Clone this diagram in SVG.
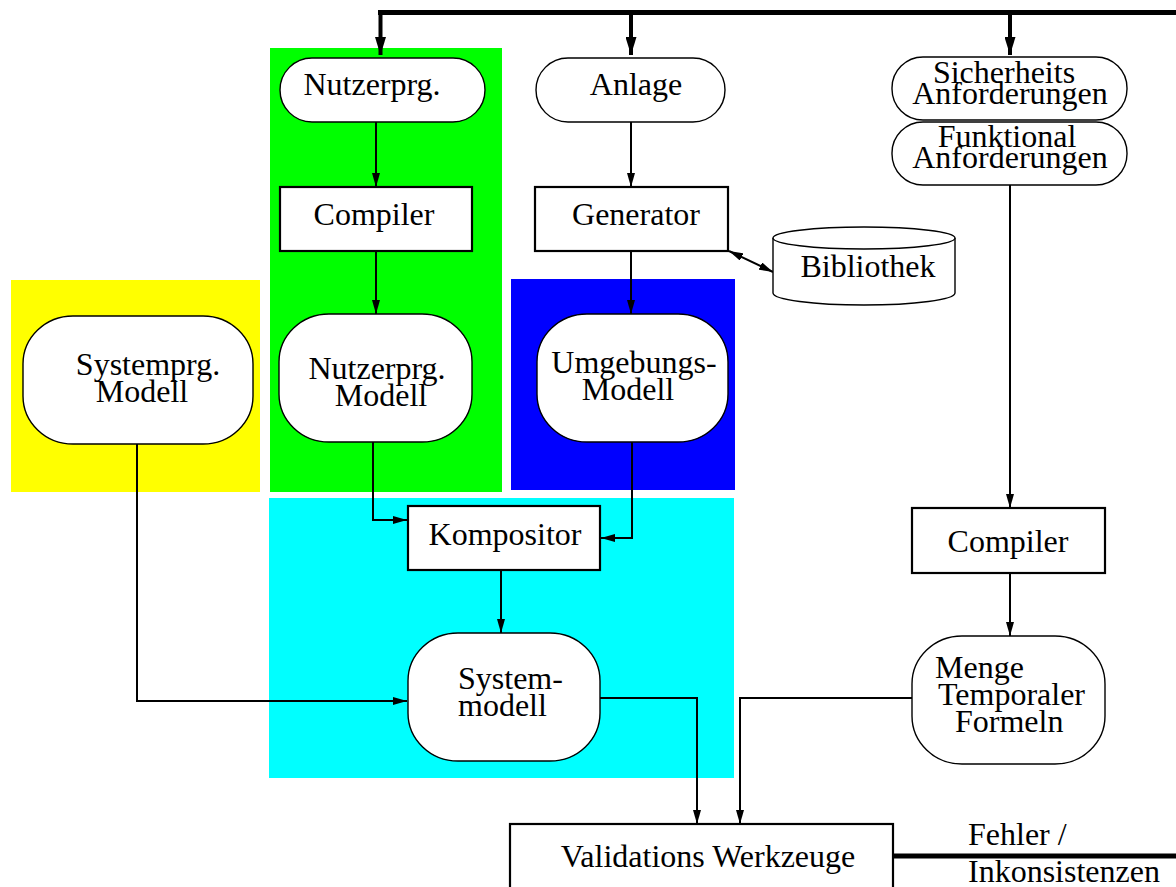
<svg xmlns="http://www.w3.org/2000/svg" width="1176" height="887" viewBox="0 0 1176 887">
  <defs>
    <style>
      text { font-family: "Liberation Serif", "Times New Roman", serif; font-size: 32px; fill: #000; }
      .box { fill: #fff; stroke: #000; stroke-width: 2.2; }
      .term { fill: #fff; stroke: #000; stroke-width: 1.4; }
      .line { fill: none; stroke: #000; stroke-width: 2; }
      .thick { fill: none; stroke: #000; stroke-width: 5; }
      .mid { text-anchor: middle; }
    </style>
    <marker id="arr" viewBox="0 0 14 8" refX="14" refY="4" markerWidth="14" markerHeight="8" markerUnits="userSpaceOnUse" orient="auto">
      <path d="M0,0 L14,4 L0,8 Z" fill="#000"/>
    </marker>
    <marker id="arrStart" viewBox="0 0 14 8" refX="0" refY="4" markerWidth="14" markerHeight="8" markerUnits="userSpaceOnUse" orient="auto">
      <path d="M14,0 L0,4 L14,8 Z" fill="#000"/>
    </marker>
    <marker id="arrBig" viewBox="0 0 18 11" refX="18" refY="5.5" markerWidth="18" markerHeight="11" markerUnits="userSpaceOnUse" orient="auto">
      <path d="M0,0 L18,5.5 L0,11 Z" fill="#000"/>
    </marker>
  </defs>

  <!-- coloured areas -->
  <g id="areas">
    <rect x="270" y="48" width="232" height="444" fill="#00ff00"/>
    <rect x="11" y="280" width="249" height="212" fill="#ffff00"/>
    <rect x="511" y="279" width="224" height="211" fill="#0000ff"/>
    <rect x="269" y="498" width="465" height="280" fill="#00ffff"/>
  </g>

  <!-- connectors -->
  <g id="connectors">
    <path class="thick" d="M378,12.5 H1176"/>
    <path d="M380.5,12.5 V55" stroke="#000" stroke-width="4" fill="none" marker-end="url(#arrBig)"/>
    <path d="M631,12.5 V55" stroke="#000" stroke-width="4" fill="none" marker-end="url(#arrBig)"/>
    <path d="M1010,12.5 V55" stroke="#000" stroke-width="4" fill="none" marker-end="url(#arrBig)"/>

    <path class="line" d="M376,122 V187" marker-end="url(#arr)"/>
    <path class="line" d="M376,251 V314" marker-end="url(#arr)"/>
    <path class="line" d="M631,122 V187" marker-end="url(#arr)"/>
    <path class="line" d="M631,251 V314" marker-end="url(#arr)"/>
    <path class="line" d="M729,251 L773,272" marker-start="url(#arrStart)" marker-end="url(#arr)"/>

    <path class="line" d="M1010,185 V508" marker-end="url(#arr)"/>
    <path class="line" d="M1010,573 V636" marker-end="url(#arr)"/>

    <path class="line" d="M373,442 V520 H407" marker-end="url(#arr)"/>
    <path class="line" d="M632,442 V538 H601" marker-end="url(#arr)"/>
    <path class="line" d="M501,570 V633" marker-end="url(#arr)"/>
    <path class="line" d="M137,444 V701 H407" marker-end="url(#arr)"/>

    <path class="line" d="M600,698 H697 V824" marker-end="url(#arr)"/>
    <path class="line" d="M912,698 H740 V824" marker-end="url(#arr)"/>

    <path class="thick" d="M893,856 H1176"/>
  </g>

  <g id="nutzerprg">
    <rect class="term" x="280" y="58" width="205" height="64" rx="32" ry="32"/>
    <text class="mid" x="372" y="95">Nutzerprg.</text>
  </g>

  <g id="anlage">
    <rect class="term" x="536" y="58" width="189" height="64" rx="32" ry="32"/>
    <text class="mid" x="636" y="95">Anlage</text>
  </g>

  <g id="sicherheits">
    <rect class="term" x="892" y="57" width="235" height="63" rx="31" ry="31"/>
    <text class="mid" x="1004" y="83">Sicherheits</text>
    <text class="mid" x="1010" y="104">Anforderungen</text>
  </g>

  <g id="funktional">
    <rect class="term" x="892" y="122" width="235" height="63" rx="31" ry="31"/>
    <text class="mid" x="1007" y="147">Funktional</text>
    <text class="mid" x="1010" y="168">Anforderungen</text>
  </g>

  <g id="compiler1">
    <rect class="box" x="280" y="187" width="192" height="64"/>
    <text class="mid" x="374" y="225">Compiler</text>
  </g>

  <g id="generator">
    <rect class="box" x="535" y="187" width="193" height="64"/>
    <text class="mid" x="636" y="225">Generator</text>
  </g>

  <g id="bibliothek">
    <path class="term" d="M773,238 V293 A91,12 0 0 0 955,293 V238"/>
    <ellipse class="term" cx="864" cy="238" rx="91" ry="11"/>
    <text class="mid" x="868" y="277">Bibliothek</text>
  </g>

  <g id="systemprg-modell">
    <rect class="term" x="23" y="316" width="230" height="128" rx="50" ry="48"/>
    <text class="mid" x="148" y="375">Systemprg.</text>
    <text class="mid" x="142" y="402">Modell</text>
  </g>

  <g id="nutzerprg-modell">
    <rect class="term" x="279" y="314" width="193" height="128" rx="50" ry="48"/>
    <text class="mid" x="377" y="379">Nutzerprg.</text>
    <text class="mid" x="381" y="406">Modell</text>
  </g>

  <g id="umgebungs-modell">
    <rect class="term" x="537" y="314" width="191" height="128" rx="50" ry="48"/>
    <text class="mid" x="634" y="373">Umgebungs-</text>
    <text class="mid" x="628" y="400">Modell</text>
  </g>

  <g id="kompositor">
    <rect class="box" x="408" y="506" width="192" height="64"/>
    <text class="mid" x="505" y="545">Kompositor</text>
  </g>

  <g id="systemmodell">
    <rect class="term" x="408" y="633" width="192" height="128" rx="50" ry="48"/>
    <text x="458" y="689">System-</text>
    <text x="458" y="716">modell</text>
  </g>

  <g id="compiler2">
    <rect class="box" x="912" y="508" width="193" height="65"/>
    <text class="mid" x="1008" y="552">Compiler</text>
  </g>

  <g id="menge">
    <rect class="term" x="912" y="636" width="193" height="128" rx="50" ry="48"/>
    <text x="935" y="678">Menge</text>
    <text x="938" y="705">Temporaler</text>
    <text x="955" y="732">Formeln</text>
  </g>

  <g id="validation">
    <rect class="box" x="510" y="824" width="383" height="80"/>
    <text class="mid" x="708" y="867">Validations Werkzeuge</text>
  </g>

  <g id="result">
    <text x="968" y="845">Fehler /</text>
    <text x="968" y="882">Inkonsistenzen</text>
  </g>
</svg>
